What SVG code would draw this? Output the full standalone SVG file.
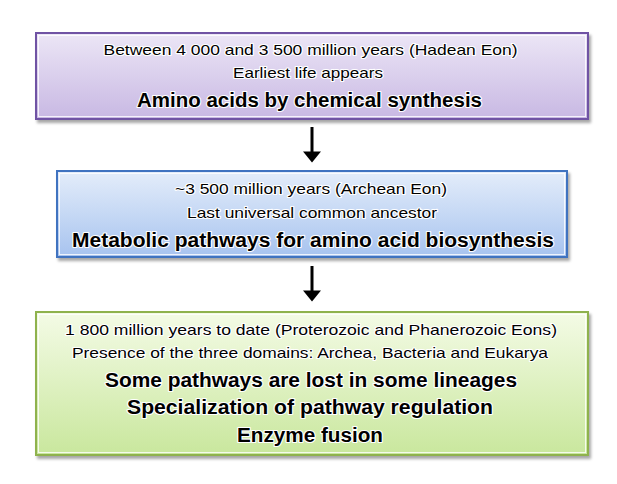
<svg xmlns="http://www.w3.org/2000/svg" width="617" height="484" viewBox="0 0 617 484">
  <defs>
    <linearGradient id="gPurple" x1="0" y1="0" x2="0" y2="1">
      <stop offset="0" stop-color="#ece6f6"/>
      <stop offset="1" stop-color="#c8b8e3"/>
    </linearGradient>
    <linearGradient id="gBlue" x1="0" y1="0" x2="0" y2="1">
      <stop offset="0" stop-color="#e4edfa"/>
      <stop offset="1" stop-color="#a7c3ef"/>
    </linearGradient>
    <linearGradient id="gGreen" x1="0" y1="0" x2="0" y2="1">
      <stop offset="0" stop-color="#f4fbe6"/>
      <stop offset="1" stop-color="#c9e79d"/>
    </linearGradient>
    <filter id="shadow" x="-5%" y="-10%" width="115%" height="130%">
      <feGaussianBlur in="SourceAlpha" stdDeviation="1.5"/>
      <feOffset dx="2" dy="3" result="b"/>
      <feComponentTransfer><feFuncA type="linear" slope="0.35"/></feComponentTransfer>
      <feMerge><feMergeNode/><feMergeNode in="SourceGraphic"/></feMerge>
    </filter>
    <marker id="arrow" markerWidth="4" markerHeight="6" refX="0.2" refY="3" orient="auto" markerUnits="strokeWidth">
      <path d="M0,0 L3.7,3 L0,6 z" fill="#000"/>
    </marker>
  </defs>
  <style>
    text { font-family: "Liberation Sans", Arial, sans-serif; fill: #000; text-anchor: middle; stroke: #ffffff; stroke-width: 2.2; stroke-linejoin: round; paint-order: stroke; }
    .n { font-size: 15px; }
    .b { font-size: 19.5px; font-weight: bold; }
    .frame { stroke-width: 2; }
    .inner { fill: none; stroke: #ffffff; stroke-opacity: 0.8; stroke-width: 1; }
  </style>
  <rect width="617" height="484" fill="#ffffff"/>

  <g id="connectors" stroke="#000" stroke-width="3" fill="none">
    <line x1="312" y1="127" x2="312" y2="152" marker-end="url(#arrow)"/>
    <line x1="312" y1="266" x2="312" y2="291" marker-end="url(#arrow)"/>
  </g>

  <g id="node-hadean">
    <rect class="frame" x="36" y="33" width="552" height="86" fill="url(#gPurple)" stroke="#7053a4" filter="url(#shadow)"/>
    <rect class="inner" x="38.5" y="35.5" width="547" height="81"/>
    <text class="n" x="310.5" y="55" textLength="414" lengthAdjust="spacingAndGlyphs">Between 4 000 and 3 500 million  years (Hadean  Eon)</text>
    <text class="n" x="308" y="78" textLength="150" lengthAdjust="spacingAndGlyphs">Earliest life appears</text>
    <text class="b" x="309.5" y="107" textLength="345" lengthAdjust="spacingAndGlyphs">Amino acids by chemical synthesis</text>
  </g>

  <g id="node-archean">
    <rect class="frame" x="57" y="171" width="510" height="86" fill="url(#gBlue)" stroke="#3f73c0" filter="url(#shadow)"/>
    <rect class="inner" x="59.5" y="173.5" width="505" height="81"/>
    <text class="n" x="311" y="194" textLength="272" lengthAdjust="spacingAndGlyphs">~3 500 million  years (Archean  Eon)</text>
    <text class="n" x="312" y="218" textLength="250" lengthAdjust="spacingAndGlyphs">Last universal  common  ancestor</text>
    <text class="b" x="313" y="247" textLength="482" lengthAdjust="spacingAndGlyphs">Metabolic pathways for amino acid biosynthesis</text>
  </g>

  <g id="node-proterozoic">
    <rect class="frame" x="36" y="312" width="552" height="143" fill="url(#gGreen)" stroke="#8fb24d" filter="url(#shadow)"/>
    <rect class="inner" x="38.5" y="314.5" width="547" height="138"/>
    <text class="n" x="311" y="335" textLength="492" lengthAdjust="spacingAndGlyphs">1 800 million  years to date  (Proterozoic and Phanerozoic  Eons)</text>
    <text class="n" x="310" y="358" textLength="476" lengthAdjust="spacingAndGlyphs">Presence of the three domains: Archea, Bacteria and Eukarya</text>
    <text class="b" x="311" y="387" textLength="412" lengthAdjust="spacingAndGlyphs">Some pathways are lost in some lineages</text>
    <text class="b" x="310" y="414" textLength="366" lengthAdjust="spacingAndGlyphs">Specialization of pathway regulation</text>
    <text class="b" x="310" y="442" textLength="146" lengthAdjust="spacingAndGlyphs">Enzyme fusion</text>
  </g>
</svg>
